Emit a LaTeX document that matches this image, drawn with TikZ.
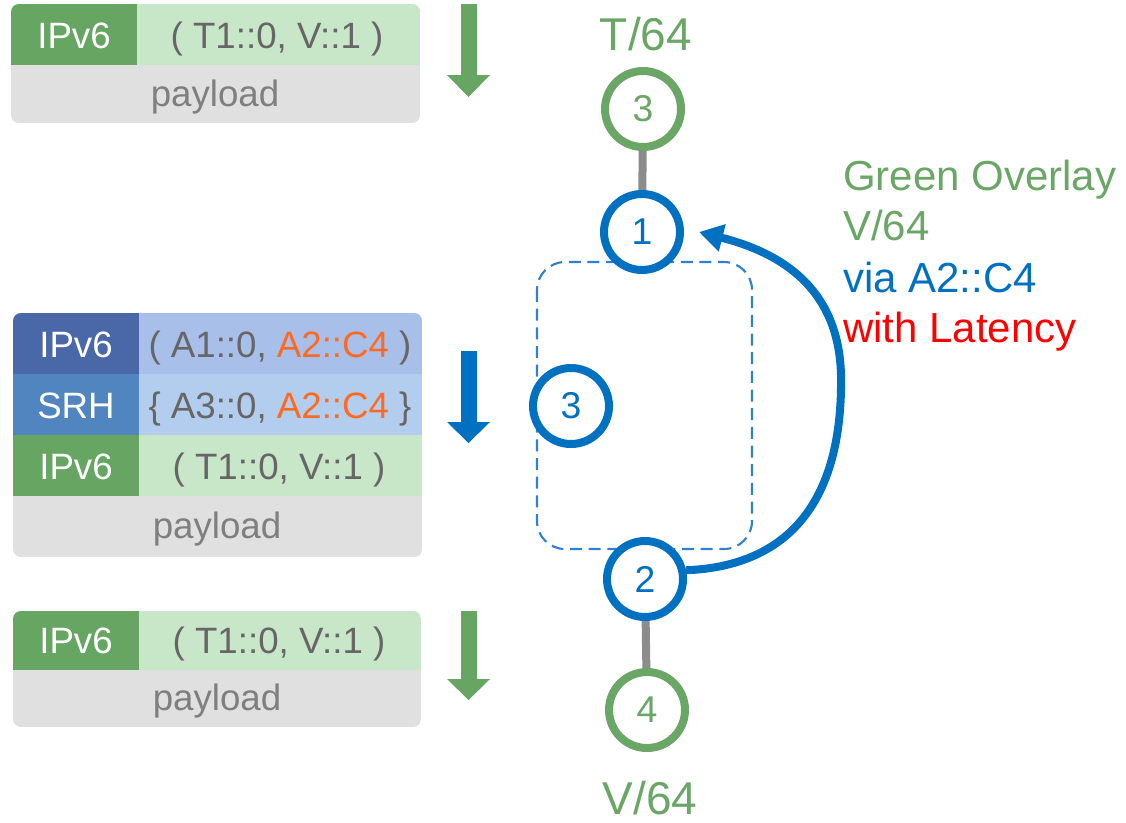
\documentclass[tikz,border=0pt]{standalone}
\usepackage{fontspec}
\setmainfont{Liberation Sans}
\usetikzlibrary{arrows.meta,backgrounds}
\definecolor{gdark}{HTML}{67A562}
\definecolor{glight}{HTML}{C8E6C8}
\definecolor{pgray}{HTML}{E0E0E0}
\definecolor{tgray}{HTML}{666666}
\definecolor{ptext}{HTML}{7F7F7F}
\definecolor{bdark}{HTML}{4A67A8}
\definecolor{blight}{HTML}{A8BFEA}
\definecolor{sdark}{HTML}{5085C0}
\definecolor{slight}{HTML}{B3CDEE}
\definecolor{orng}{HTML}{FF6A20}
\definecolor{myblue}{HTML}{0070C0}
\definecolor{dashblue}{HTML}{2E80D0}
\definecolor{mygreen}{HTML}{6AA665}
\definecolor{linkgray}{HTML}{8C8C8C}
\tikzset{
  hdr/.style={anchor=base,inner sep=0pt,text=white,font=\fontsize{27.5}{32}\selectfont},
  addr/.style={anchor=base,inner sep=0pt,text=tgray,font=\fontsize{27.5}{32}\selectfont},
  pay/.style={anchor=base,inner sep=0pt,text=ptext,font=\fontsize{27.5}{32}\selectfont},
  gcirc/.style={circle,draw=mygreen,line width=6pt,fill=white,minimum size=57pt,inner sep=0pt,text=mygreen,font=\fontsize{28}{32}\selectfont},
  bcirc/.style={circle,draw=myblue,line width=6pt,fill=white,minimum size=57pt,inner sep=0pt,text=myblue,font=\fontsize{28}{32}\selectfont},
  link/.style={draw=linkgray,line width=6pt},
  biglabel/.style={anchor=base,inner sep=0pt,text=mygreen,font=\fontsize{34.5}{40}\selectfont},
  sidelabel/.style={anchor=base west,inner sep=0pt,font=\fontsize{31.5}{36}\selectfont},
  dashrect/.style={draw=dashblue,line width=1.6pt,dash pattern=on 9pt off 5pt,rounded corners=21pt},
  curvearrow/.style={draw=myblue,line width=6pt,-{Triangle[length=18pt,width=20pt]}},
}
\begin{document}
\begin{tikzpicture}[x=0.75pt,y=-0.75pt]
\useasboundingbox (0,0) rectangle (1126,822);

% ---------- top packet ----------
\begin{scope}
\clip[rounded corners=6pt] (11,4) rectangle (420,123);
\fill[pgray] (11,4) rectangle (420,123);
\fill[gdark] (11,4) rectangle (137,65);
\fill[glight] (137,4) rectangle (420,65);
\end{scope}
\node[hdr] (p1h) at (74,48) {IPv6};
\node[addr] (p1a) at (277,48) {( T1::0, V::1 )};
\node[pay] (p1p) at (215,106) {payload};
\fill[gdark] (461,4) -- (477,4) -- (477,75) -- (490,75) -- (468.5,97) -- (447,75) -- (461,75) -- cycle;

% ---------- middle packet ----------
\begin{scope}
\clip[rounded corners=6pt] (13,313) rectangle (422,557);
\fill[pgray] (13,313) rectangle (422,557);
\fill[bdark] (13,313) rectangle (139,374);
\fill[blight] (139,313) rectangle (422,374);
\fill[sdark] (13,374) rectangle (139,435);
\fill[slight] (139,374) rectangle (422,435);
\fill[gdark] (13,435) rectangle (139,496);
\fill[glight] (139,435) rectangle (422,496);
\end{scope}
\node[hdr] (p2h1) at (76,357) {IPv6};
\node[addr] (p2a1) at (280,357) {( A1::0, \textcolor{orng}{A2::C4} )};
\node[hdr] (p2h2) at (76,418) {SRH};
\node[addr] (p2a2) at (280,418) {\{ A3::0, \textcolor{orng}{A2::C4} \}};
\node[hdr] (p2h3) at (76,479) {IPv6};
\node[addr] (p2a3) at (279,479) {( T1::0, V::1 )};
\node[pay] (p2p) at (217,538) {payload};
\fill[myblue] (461,351) -- (477,351) -- (477,422) -- (490,422) -- (468.5,443) -- (447,422) -- (461,422) -- cycle;

% ---------- bottom packet ----------
\begin{scope}
\clip[rounded corners=6pt] (13,611) rectangle (421,727);
\fill[pgray] (13,611) rectangle (421,727);
\fill[gdark] (13,611) rectangle (139,670);
\fill[glight] (139,611) rectangle (421,670);
\end{scope}
\node[hdr] (p3h) at (76,653) {IPv6};
\node[addr] (p3a) at (279,653) {( T1::0, V::1 )};
\node[pay] (p3p) at (217,710) {payload};
\fill[gdark] (461,611) -- (477,611) -- (477,679) -- (490,679) -- (468.5,700) -- (447,679) -- (461,679) -- cycle;

% ---------- overlay graph ----------
\draw[dashrect] (537,262) rectangle (752,549);

\node[biglabel] (tlab) at (646,50) {T/64};
\node[gcirc] (t3) at (643,109) {3};
\node[bcirc] (b1) at (642,232) {1};
\node[bcirc] (b3) at (571,406) {3};
\node[bcirc] (b2) at (645,579) {2};
\node[gcirc] (v4) at (647,710) {4};
\node[biglabel] (vlab) at (650,814) {V/64};

\begin{scope}[on background layer]
\draw[link] (t3) -- (b1);
\draw[link] (b2) -- (v4);
\end{scope}

\coordinate (tip) at (699,232);
\draw[curvearrow] (b2.12) .. controls (790,566) and (843,500) .. (841,375)
  .. controls (839,295) and (790,255) .. (tip);

\node[sidelabel,text=mygreen] (l1) at (843,190) {Green Overlay};
\node[sidelabel,text=mygreen] (l2) at (843,240) {V/64};
\node[sidelabel,text=myblue] (l3) at (843,292) {via A2::C4};
\node[sidelabel,text=red] (l4) at (843,342) {with Latency};
\end{tikzpicture}
\end{document}
